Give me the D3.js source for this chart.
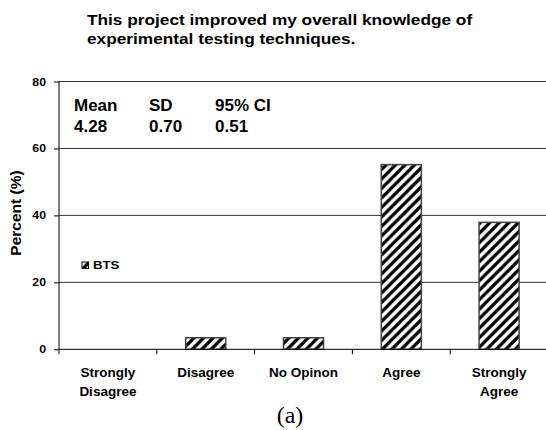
<!DOCTYPE html>
<html>
<head>
<meta charset="utf-8">
<script src="https://cdn.jsdelivr.net/npm/d3@7"></script>
<style>
  html, body { margin: 0; padding: 0; background: #fff; }
  svg { display: block; }
  text { font-family: Arial, "Liberation Sans", sans-serif; font-weight: bold; fill: #000; }
</style>
</head>
<body>
<svg id="chart" width="546" height="430"></svg>
<script>
// ---- data ----
const categories = [["Strongly", "Disagree"], ["Disagree"], ["No Opinon"], ["Agree"], ["Strongly", "Agree"]];
const categoryKeys = ["Strongly Disagree", "Disagree", "No Opinon", "Agree", "Strongly Agree"];
const btsValues = [0, 3.45, 3.45, 55.17, 37.93];
const yTicks = [0, 20, 40, 60, 80];
const titleLines = ["This project improved my overall knowledge of", "experimental testing techniques."];
const statHeaders = ["Mean", "SD", "95% CI"];
const statValues = ["4.28", "0.70", "0.51"];
const seriesName = "BTS";
const yLabel = "Percent (%)";
const caption = "(a)";

// ---- layout ----
const svg = d3.select("#chart");
const mLeft = 59, mRight = 548, mTop = 81.5, mBottom = 349.3;

const x = d3.scaleBand().domain(categoryKeys).range([mLeft, mRight]).padding(0);
const y = d3.scaleLinear().domain([0, 80]).range([mBottom, mTop]);

// hatch pattern
const defs = svg.append("defs");
const pat = defs.append("pattern")
  .attr("id", "hatch").attr("patternUnits", "userSpaceOnUse")
  .attr("width", 9.5).attr("height", 9.5);
pat.append("rect").attr("width", 9.5).attr("height", 9.5).attr("fill", "#fff");
pat.append("path")
  .attr("d", "M-2,2 L2,-2 M0,9.5 L9.5,0 M7.5,11.5 L11.5,7.5")
  .attr("stroke", "#000").attr("stroke-width", 3.2);

// gridlines
svg.append("g").selectAll("line")
  .data(yTicks.filter(d => d > 0))
  .join("line")
  .attr("x1", mLeft).attr("x2", mRight)
  .attr("y1", d => y(d)).attr("y2", d => y(d))
  .attr("stroke", "#333").attr("stroke-width", 1);

// bars
const bw = x.bandwidth() * 0.41;
svg.append("g").selectAll("rect")
  .data(btsValues)
  .join("rect")
  .attr("x", (d, i) => x(categoryKeys[i]) + (x.bandwidth() - bw) / 2)
  .attr("width", bw)
  .attr("y", d => y(d))
  .attr("height", d => y(0) - y(d))
  .attr("fill", "url(#hatch)")
  .attr("stroke", d => d > 0 ? "#444" : "none")
  .attr("stroke-width", 1.5);

// left axis
const yAxis = d3.axisLeft(y).tickValues(yTicks).tickSize(5).tickPadding(8);
const gy = svg.append("g").attr("transform", `translate(${mLeft},0)`).call(yAxis);
gy.select(".domain").attr("stroke", "#000").attr("d", `M0,${mTop}V${mBottom}`);
gy.selectAll(".tick line").attr("stroke", "#000");
gy.selectAll(".tick text")
  .style("font-family", "Arial, 'Liberation Sans', sans-serif")
  .style("font-weight", "bold")
  .attr("font-size", 11)
  .attr("transform", "scale(1.12,1)")
  .attr("x", -13 / 1.12);

// bottom axis (ticks at band boundaries)
const gx = svg.append("g");
gx.append("line").attr("x1", mLeft).attr("x2", mRight).attr("y1", mBottom).attr("y2", mBottom)
  .attr("stroke", "#000");
gx.selectAll("line.tk")
  .data(categoryKeys)
  .join("line").attr("class", "tk")
  .attr("x1", d => x(d)).attr("x2", d => x(d))
  .attr("y1", mBottom).attr("y2", mBottom + 5)
  .attr("stroke", "#000");

// category labels
const catG = svg.append("g");
categories.forEach((lines, i) => {
  const cx = x(categoryKeys[i]) + x.bandwidth() / 2;
  lines.forEach((ln, j) => {
    catG.append("text")
      .attr("x", cx).attr("y", 377 + j * 19)
      .attr("text-anchor", "middle")
      .attr("font-size", 13.5)
      .text(ln);
  });
});

// title
titleLines.forEach((ln, i) => {
  svg.append("text")
    .attr("transform", `translate(87,${25 + i * 18.5}) scale(1.15,1)`)
    .attr("font-size", 15)
    .text(ln);
});

// stats
const statX = [74, 149, 215];
statHeaders.forEach((h, i) => {
  svg.append("text").attr("x", statX[i]).attr("y", 111).attr("font-size", 17).text(h);
  svg.append("text").attr("x", statX[i]).attr("y", 131.5).attr("font-size", 17).text(statValues[i]);
});

// legend
svg.append("rect").attr("x", 82).attr("y", 262).attr("width", 6.5).attr("height", 6.5)
  .attr("fill", "url(#hatch)").attr("stroke", "#000").attr("stroke-width", 1);
svg.append("text")
  .attr("transform", "translate(93,269) scale(1.2,1)")
  .attr("font-size", 11).text(seriesName);

// y label
svg.append("text")
  .attr("transform", "translate(21,213) rotate(-90)")
  .attr("text-anchor", "middle")
  .attr("font-size", 15.5)
  .text(yLabel);

// caption
svg.append("text")
  .attr("x", 290).attr("y", 423)
  .attr("text-anchor", "middle")
  .style("font-family", "'Liberation Serif', 'DejaVu Serif', serif")
  .style("font-weight", "normal")
  .attr("font-size", 24)
  .text(caption);
</script>
</body>
</html>
